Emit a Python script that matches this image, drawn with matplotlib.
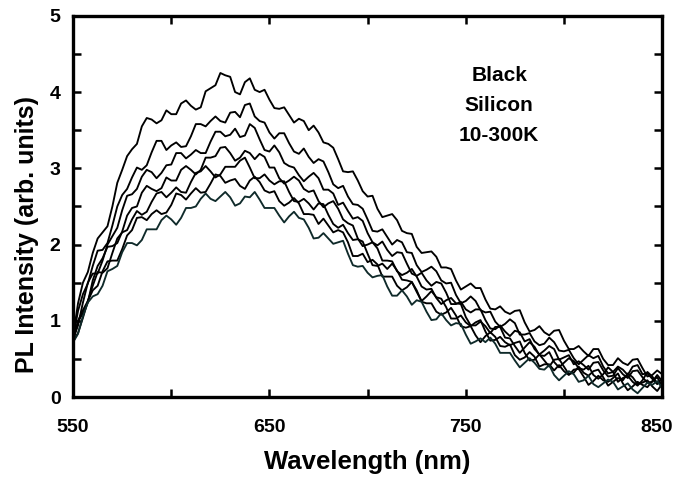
import numpy as np
import matplotlib
matplotlib.use('Agg')
import matplotlib.pyplot as plt
import matplotlib.transforms as mtrans
from matplotlib.ticker import FixedLocator

plt.rcParams['font.family'] = ['Liberation Sans', 'DejaVu Sans']
plt.rcParams['font.weight'] = 'bold'

wavelength = np.arange(550, 850.1, 2.5)

# PL spectra, 7 temperatures between 10 and 300 K (top to bottom)
pl_1 = [0.80, 1.23, 1.50, 1.64, 1.89, 2.08, 2.16, 2.24, 2.50, 2.81,
        2.98, 3.16, 3.25, 3.32, 3.55, 3.66, 3.64, 3.59, 3.63, 3.76,
        3.71, 3.71, 3.85, 3.89, 3.82, 3.77, 3.80, 4.01, 4.05, 4.09,
        4.25, 4.22, 4.20, 4.00, 3.97, 4.13, 4.18, 4.03, 4.00, 4.03,
        3.90, 3.79, 3.78, 3.80, 3.70, 3.60, 3.65, 3.62, 3.50, 3.56,
        3.47, 3.34, 3.32, 3.27, 3.12, 2.96, 2.95, 2.96, 2.84, 2.70,
        2.63, 2.64, 2.47, 2.36, 2.38, 2.40, 2.32, 2.18, 2.15, 2.14,
        1.97, 1.89, 1.90, 1.91, 1.84, 1.70, 1.70, 1.68, 1.53, 1.41,
        1.45, 1.49, 1.43, 1.43, 1.28, 1.16, 1.15, 1.19, 1.12, 1.09,
        1.13, 1.14, 0.98, 0.86, 0.88, 0.93, 0.85, 0.81, 0.87, 0.88,
        0.74, 0.63, 0.63, 0.67, 0.60, 0.54, 0.63, 0.63, 0.50, 0.42,
        0.42, 0.51, 0.45, 0.42, 0.49, 0.50, 0.38, 0.27, 0.29, 0.35,
        0.30]
pl_2 = [0.78, 1.13, 1.35, 1.49, 1.72, 1.92, 1.93, 2.02, 2.25, 2.50,
        2.65, 2.73, 2.88, 3.01, 2.98, 3.04, 3.21, 3.36, 3.36, 3.24,
        3.30, 3.34, 3.28, 3.29, 3.42, 3.58, 3.58, 3.55, 3.62, 3.68,
        3.62, 3.60, 3.73, 3.74, 3.67, 3.83, 3.85, 3.68, 3.62, 3.60,
        3.47, 3.39, 3.46, 3.46, 3.33, 3.22, 3.19, 3.26, 3.15, 3.07,
        3.12, 3.09, 2.95, 2.79, 2.74, 2.77, 2.63, 2.53, 2.52, 2.47,
        2.33, 2.18, 2.17, 2.20, 2.10, 2.00, 2.06, 2.03, 1.90, 1.89,
        1.73, 1.64, 1.67, 1.71, 1.65, 1.53, 1.49, 1.50, 1.34, 1.23,
        1.26, 1.32, 1.26, 1.14, 1.11, 1.12, 0.99, 0.92, 0.96, 1.02,
        0.97, 0.82, 0.82, 0.84, 0.73, 0.68, 0.70, 0.78, 0.72, 0.61,
        0.60, 0.62, 0.51, 0.43, 0.49, 0.55, 0.51, 0.54, 0.40, 0.31,
        0.33, 0.40, 0.36, 0.29, 0.40, 0.42, 0.30, 0.31, 0.24, 0.17,
        0.25]
pl_3 = [0.76, 0.94, 1.24, 1.50, 1.62, 1.62, 1.79, 2.00, 2.11, 2.22,
        2.45, 2.64, 2.66, 2.73, 2.89, 2.98, 2.95, 2.87, 2.94, 3.04,
        3.05, 3.20, 3.20, 3.13, 3.18, 3.24, 3.20, 3.20, 3.35, 3.48,
        3.48, 3.42, 3.44, 3.52, 3.41, 3.43, 3.58, 3.53, 3.38, 3.24,
        3.22, 3.30, 3.21, 3.07, 3.03, 3.01, 2.91, 2.83, 2.89, 2.94,
        2.87, 2.72, 2.72, 2.67, 2.52, 2.55, 2.44, 2.34, 2.36, 2.31,
        2.15, 2.03, 1.99, 2.04, 1.93, 1.85, 1.90, 1.89, 1.75, 1.62,
        1.59, 1.63, 1.53, 1.46, 1.51, 1.49, 1.37, 1.22, 1.22, 1.25,
        1.15, 1.11, 1.15, 1.15, 1.01, 0.90, 0.89, 0.94, 0.86, 0.80,
        0.87, 0.85, 0.73, 0.76, 0.63, 0.56, 0.61, 0.67, 0.63, 0.49,
        0.52, 0.55, 0.43, 0.47, 0.42, 0.36, 0.45, 0.46, 0.35, 0.27,
        0.28, 0.38, 0.30, 0.25, 0.34, 0.35, 0.26, 0.19, 0.20, 0.29,
        0.21]
pl_4 = [0.75, 0.99, 1.10, 1.24, 1.53, 1.72, 1.82, 1.97, 1.98, 2.02,
        2.17, 2.38, 2.48, 2.50, 2.68, 2.77, 2.73, 2.70, 2.74, 2.88,
        2.84, 2.84, 2.98, 3.03, 2.98, 2.92, 2.98, 3.14, 3.14, 3.16,
        3.27, 3.28, 3.20, 3.10, 3.14, 3.23, 3.20, 3.12, 3.19, 3.15,
        3.01, 3.01, 2.87, 2.80, 2.84, 2.89, 2.84, 2.73, 2.69, 2.71,
        2.57, 2.49, 2.54, 2.57, 2.47, 2.33, 2.28, 2.25, 2.08, 1.98,
        2.00, 2.03, 1.95, 1.79, 1.79, 1.78, 1.65, 1.60, 1.63, 1.68,
        1.58, 1.45, 1.41, 1.42, 1.30, 1.22, 1.27, 1.30, 1.23, 1.22,
        1.05, 0.94, 0.94, 0.99, 0.93, 0.84, 0.92, 0.92, 0.78, 0.77,
        0.67, 0.58, 0.65, 0.72, 0.66, 0.55, 0.54, 0.59, 0.46, 0.39,
        0.45, 0.51, 0.47, 0.38, 0.36, 0.41, 0.29, 0.24, 0.30, 0.39,
        0.33, 0.20, 0.25, 0.28, 0.20, 0.15, 0.22, 0.33, 0.27, 0.18,
        0.19]
pl_5 = [0.74, 1.00, 1.14, 1.26, 1.46, 1.64, 1.63, 1.69, 1.89, 2.08,
        2.16, 2.19, 2.33, 2.44, 2.39, 2.43, 2.56, 2.67, 2.69, 2.62,
        2.68, 2.75, 2.69, 2.68, 2.82, 2.94, 2.96, 3.03, 2.96, 2.88,
        2.92, 3.02, 3.02, 3.02, 3.10, 3.14, 3.01, 2.87, 2.87, 2.92,
        2.84, 2.79, 2.83, 2.83, 2.69, 2.57, 2.56, 2.60, 2.54, 2.46,
        2.54, 2.53, 2.39, 2.27, 2.22, 2.26, 2.15, 2.06, 2.07, 2.04,
        1.88, 1.73, 1.72, 1.75, 1.68, 1.75, 1.66, 1.54, 1.53, 1.51,
        1.38, 1.26, 1.32, 1.39, 1.31, 1.29, 1.18, 1.03, 1.03, 1.07,
        0.98, 0.93, 0.98, 1.01, 0.86, 0.74, 0.75, 0.79, 0.72, 0.68,
        0.71, 0.73, 0.58, 0.48, 0.49, 0.56, 0.48, 0.40, 0.49, 0.50,
        0.40, 0.30, 0.32, 0.40, 0.32, 0.28, 0.34, 0.36, 0.26, 0.15,
        0.20, 0.25, 0.22, 0.31, 0.26, 0.17, 0.19, 0.22, 0.14, 0.08,
        0.17]
pl_6 = [0.73, 0.84, 1.04, 1.26, 1.40, 1.46, 1.65, 1.78, 1.79, 1.79,
        1.94, 2.12, 2.19, 2.35, 2.36, 2.32, 2.40, 2.45, 2.40, 2.42,
        2.52, 2.67, 2.65, 2.59, 2.67, 2.74, 2.68, 2.69, 2.80, 2.92,
        2.90, 2.81, 2.84, 2.86, 2.77, 2.73, 2.84, 2.89, 2.82, 2.71,
        2.68, 2.70, 2.57, 2.51, 2.55, 2.61, 2.54, 2.40, 2.40, 2.39,
        2.27, 2.34, 2.25, 2.16, 2.19, 2.16, 2.03, 1.85, 1.85, 1.88,
        1.77, 1.80, 1.74, 1.58, 1.58, 1.58, 1.46, 1.40, 1.44, 1.51,
        1.40, 1.25, 1.23, 1.23, 1.12, 1.08, 1.11, 1.17, 1.07, 0.93,
        0.91, 0.93, 0.81, 0.72, 0.80, 0.85, 0.79, 0.67, 0.66, 0.69,
        0.55, 0.49, 0.52, 0.59, 0.53, 0.40, 0.43, 0.43, 0.35, 0.42,
        0.34, 0.29, 0.36, 0.37, 0.27, 0.16, 0.21, 0.28, 0.22, 0.20,
        0.25, 0.31, 0.18, 0.09, 0.14, 0.20, 0.16, 0.13, 0.21, 0.26,
        0.15]
pl_7 = [0.72, 0.83, 1.06, 1.24, 1.32, 1.35, 1.46, 1.65, 1.68, 1.72,
        1.90, 2.02, 2.02, 1.99, 2.06, 2.20, 2.20, 2.20, 2.32, 2.38,
        2.33, 2.26, 2.35, 2.48, 2.48, 2.50, 2.60, 2.67, 2.60, 2.57,
        2.63, 2.69, 2.62, 2.51, 2.54, 2.63, 2.62, 2.69, 2.59, 2.48,
        2.48, 2.48, 2.38, 2.29, 2.37, 2.43, 2.35, 2.33, 2.22, 2.08,
        2.09, 2.15, 2.08, 2.01, 2.03, 2.05, 1.88, 1.73, 1.71, 1.72,
        1.63, 1.57, 1.59, 1.60, 1.45, 1.33, 1.33, 1.40, 1.32, 1.21,
        1.27, 1.25, 1.12, 1.01, 1.02, 1.10, 1.01, 0.94, 0.97, 0.96,
        0.82, 0.70, 0.73, 0.77, 0.72, 0.78, 0.70, 0.58, 0.58, 0.58,
        0.48, 0.39, 0.45, 0.51, 0.45, 0.37, 0.36, 0.42, 0.29, 0.22,
        0.28, 0.34, 0.30, 0.20, 0.22, 0.28, 0.17, 0.13, 0.18, 0.23,
        0.20, 0.10, 0.14, 0.18, 0.10, 0.05, 0.12, 0.19, 0.16, 0.21,
        0.12]

spectra = [pl_1, pl_2, pl_3, pl_4, pl_5, pl_6, pl_7]
colors = ['black'] * 6 + ['#0f2a2a']

x_major = [550, 650, 750, 850]
x_minor = [600, 700, 800]

fig = plt.figure(figsize=(6.77, 4.79), dpi=100)
ax = fig.add_axes([0.108, 0.171, 0.870, 0.796])

for s, c in zip(spectra, colors):
    ax.plot(wavelength, s, color=c, linewidth=1.35)

ax.set_xlim(550, 850)
ax.set_ylim(0, 5)
ax.xaxis.set_major_locator(FixedLocator(x_major))
ax.xaxis.set_minor_locator(FixedLocator(x_minor))
ax.yaxis.set_major_locator(FixedLocator([0, 1, 2, 3, 4, 5]))
ax.yaxis.set_minor_locator(FixedLocator([0.5, 1.5, 2.5, 3.5, 4.5]))
ax.tick_params(which='both', direction='in', top=True, right=True,
               width=1.8, length=5.5, labelsize=14)
ax.tick_params(axis='x', which='major', pad=16)
ax.tick_params(axis='y', which='major', pad=9)
for sp in ax.spines.values():
    sp.set_linewidth(2.4)

# nudge the last x label so it stays inside the figure
last = ax.xaxis.get_major_ticks()[-1].label1
last.set_transform(last.get_transform() +
                   mtrans.ScaledTranslation(-4 / 72, 0, fig.dpi_scale_trans))

ax.set_xlabel('Wavelength (nm)', fontsize=18.5, fontweight='bold')
ax.set_ylabel('PL Intensity (arb. units)', fontsize=18, fontweight='bold')
ax.xaxis.set_label_coords(0.5, -0.139)
ax.yaxis.set_label_coords(-0.058, 0.426)

ax.text(767, 3.82, 'Black\nSilicon\n10-300K', ha='center', va='center',
        fontsize=15, fontweight='bold', linespacing=1.72)

fig.savefig('out.png', dpi=100)
